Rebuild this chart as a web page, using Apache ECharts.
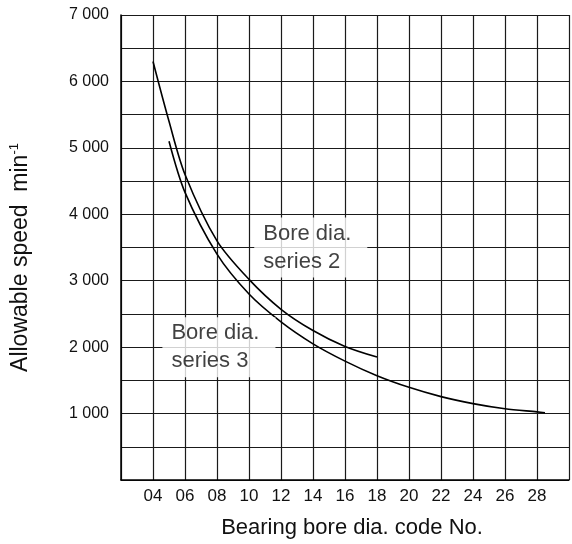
<!DOCTYPE html>
<html>
<head>
<meta charset="utf-8">
<script src="https://cdn.jsdelivr.net/npm/echarts@6/dist/echarts.min.js"></script>
<style>
html,body{margin:0;padding:0;background:#fff;}
#c{width:572px;height:544px;}
</style>
</head>
<body>
<div id="c"></div>
<script>
// Bearing bore dia. code No. (x) and allowable speed min^-1 (y)
const series2X = [4, 5, 6, 8, 10, 12, 14, 16, 18];
const series2Y = [6300, 5400, 4600, 3600, 3020, 2570, 2250, 2010, 1850];
const series3X = [5, 6, 8, 10, 12, 14, 16, 18, 20, 22, 24, 26, 28, 28.5];
const series3Y = [5100, 4330, 3400, 2800, 2380, 2050, 1790, 1570, 1395, 1255, 1150, 1072, 1025, 1012];
const xTickLabels = ['04','06','08','10','12','14','16','18','20','22','24','26','28'];
const yTickLabels = ['1 000','2 000','3 000','4 000','5 000','6 000','7 000'];
const label2 = ['Bore dia.', 'series 2'];
const label3 = ['Bore dia.', 'series 3'];
const label2Pos = [13.64, 3500];
const label3Pos = [7.9, 2000];

const chart = echarts.init(document.getElementById('c'), null, {renderer: 'canvas'});
const FONT = '"Liberation Sans", Arial, Helvetica, sans-serif';
const pair = (xs, ys) => xs.map((x, i) => [x, ys[i]]);

chart.setOption({
  backgroundColor: '#fff',
  animation: false,
  grid: {left: 115, top: 15, width: 465, height: 465, containLabel: false},
  xAxis: {
    type: 'value', min: 2, max: 30, interval: 2,
    name: 'Bearing bore dia. code No.',
    nameLocation: 'middle', nameGap: 37,
    nameTextStyle: {fontFamily: FONT, fontSize: 22, color: '#111', padding: [0, 0, 0, 14]},
    axisLine: {show: true, onZero: false, lineStyle: {color: '#000', width: 1.5}},
    axisTick: {show: false},
    axisLabel: {
      fontFamily: FONT, fontSize: 17, color: '#111', margin: 8,
      formatter: v => { const i = xTickLabels.indexOf(String(v).padStart(2, '0')); return i >= 0 ? xTickLabels[i] : ''; }
    },
    splitLine: {show: true, lineStyle: {color: '#1a1a1a', width: 1.2}}
  },
  yAxis: {
    type: 'value', min: 0, max: 7000, interval: 500,
    name: '{a|Allowable speed  min}{s|-1}',
    nameLocation: 'middle', nameGap: 88, nameRotate: 90,
    nameTextStyle: {
      fontFamily: FONT, fontSize: 23, color: '#111', padding: [0, 20, 0, 0],
      rich: {a: {fontFamily: FONT, fontSize: 23, color: '#111'}, s: {fontFamily: FONT, fontSize: 13, color: '#111', verticalAlign: 'top', padding: [0,0,12,0]}}
    },
    axisLine: {show: true, lineStyle: {color: '#000', width: 1.5}},
    axisTick: {show: false},
    axisLabel: {
      fontFamily: FONT, fontSize: 16, color: '#111', margin: 12,
      formatter: v => (v % 1000 === 0 && v > 0) ? yTickLabels[v / 1000 - 1] : ''
    },
    splitLine: {show: true, lineStyle: {color: '#1a1a1a', width: 1.2}}
  },
  series: [
    {
      type: 'line', name: 'series 2', data: pair(series2X, series2Y),
      smooth: 0.3, symbol: 'none', lineStyle: {color: '#000', width: 1.6}, z: 3
    },
    {
      type: 'line', name: 'series 3', data: pair(series3X, series3Y),
      smooth: 0.3, symbol: 'none', lineStyle: {color: '#000', width: 1.6}, z: 3
    },
    {
      type: 'scatter', symbolSize: 0, z: 5, silent: true,
      data: [
        {value: label2Pos, label: {formatter: label2.join('\n')}},
        {value: label3Pos, label: {formatter: label3.join('\n')}}
      ],
      label: {
        show: true, position: 'inside', align: 'left', verticalAlign: 'middle',
        offset: [-53, 0],
        fontFamily: FONT, fontSize: 22, lineHeight: 28, color: '#111',
        backgroundColor: '#fff', padding: [2, 16, 2, 9]
      }
    }
  ]
});
</script>
</body>
</html>
